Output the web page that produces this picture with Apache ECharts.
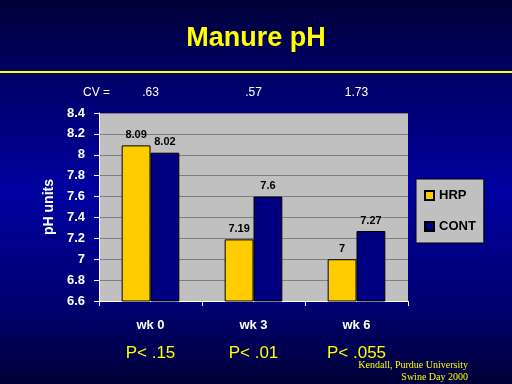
<!DOCTYPE html>
<html><head><meta charset="utf-8">
<script src="https://cdn.jsdelivr.net/npm/echarts@6/dist/echarts.min.js"></script>
<style>html,body{margin:0;padding:0;}#c{width:512px;height:384px;}</style>
</head><body><div id="c"></div>
<script>
var categories = ['wk 0', 'wk 3', 'wk 6'];
var pValues = ['P< .15', 'P< .01', 'P< .055'];
var cvValues = ['.63', '.57', '1.73'];
var hrp = [8.09, 7.19, 7.00];
var cont = [8.02, 7.60, 7.27];
var yTicks = [6.6, 6.8, 7, 7.2, 7.4, 7.6, 7.8, 8, 8.2, 8.4];

var chart = echarts.init(document.getElementById('c'));
var F = 'Liberation Sans, Arial, sans-serif';
chart.setOption({
  animation: false,
  backgroundColor: {
    type: 'linear', x: 0, y: 0, x2: 0, y2: 1,
    colorStops: [
      {offset: 0, color: '#000038'},
      {offset: 0.2, color: '#000068'},
      {offset: 0.5, color: '#0000a0'},
      {offset: 0.8, color: '#000070'},
      {offset: 1, color: '#000038'}
    ]
  },
  title: {
    text: 'Manure pH', left: 'center', top: 20,
    textStyle: {color: '#ffff00', fontSize: 27, fontWeight: 'bold', fontFamily: F}
  },
  graphic: [
    {type: 'rect', shape: {x: 0, y: 71, width: 512, height: 2}, style: {fill: '#ffff00'}},
    {type: 'text', left: 83, top: 87, style: {text: 'CV =', fill: '#ffffff', font: '12px ' + F}},
    {type: 'text', right: 44, top: 360, style: {text: 'Kendall, Purdue University', fill: '#ffff00', font: '10px Liberation Serif, serif', textAlign: 'right'}},
    {type: 'text', right: 44, top: 372, style: {text: 'Swine Day 2000', fill: '#ffff00', font: '10px Liberation Serif, serif', textAlign: 'right'}}
  ],
  legend: {
    orient: 'vertical', left: 416, top: 179, width: 67, height: 62,
    padding: [10, 8, 10, 8], itemGap: 18, itemWidth: 9, itemHeight: 9,
    backgroundColor: '#c0c0c0', borderColor: '#000000', borderWidth: 1,
    textStyle: {color: '#000000', fontSize: 13, fontWeight: 'bold', fontFamily: F},
    data: [{name: 'HRP', icon: 'rect'}, {name: 'CONT', icon: 'rect'}]
  },
  grid: {left: 99, top: 113, right: 104, bottom: 83, show: true, backgroundColor: '#c0c0c0', borderWidth: 0},
  xAxis: [{
    type: 'category', data: categories,
    axisLine: {lineStyle: {color: '#ffffff', width: 1}},
    axisTick: {show: true, length: 5, lineStyle: {color: '#ffffff'}},
    axisLabel: {
      margin: 10,
      formatter: function (v, i) { return '{a|' + v + '}\n{b|' + pValues[i] + '}'; },
      rich: {
        a: {color: '#ffffff', fontSize: 13, fontWeight: 'bold', fontFamily: F, lineHeight: 28},
        b: {color: '#ffff00', fontSize: 17, fontFamily: F, lineHeight: 28}
      }
    }
  }, {
    type: 'category', data: cvValues, position: 'top',
    axisLine: {show: false}, axisTick: {show: false},
    axisLabel: {margin: 14, color: '#ffffff', fontSize: 12, fontFamily: F}
  }],
  yAxis: {
    type: 'value', min: 6.6, max: 8.4, interval: 0.2,
    name: 'pH units', nameLocation: 'middle', nameGap: 40, nameRotate: 90,
    nameTextStyle: {color: '#ffffff', fontSize: 14, fontWeight: 'bold', fontFamily: F},
    axisLine: {show: true, lineStyle: {color: '#ffffff'}},
    axisTick: {show: true, length: 5, lineStyle: {color: '#ffffff'}},
    axisLabel: {
      margin: 14, color: '#ffffff', fontSize: 13, fontWeight: 'bold', fontFamily: F,
      formatter: function (v) { var r = Math.round(v * 10) / 10; return yTicks.indexOf(r) >= 0 ? String(r) : ''; }
    },
    splitLine: {show: true, lineStyle: {color: '#808080', width: 1}}
  },
  series: [{
    name: 'HRP', type: 'bar', data: hrp, barGap: '0%', barCategoryGap: '44%',
    itemStyle: {color: '#ffcc00', borderColor: '#000000', borderWidth: 1},
    label: {show: true, position: 'top', color: '#000000', fontSize: 11, fontWeight: 'bold', fontFamily: F,
      formatter: function (p) { return String(p.value); }}
  }, {
    name: 'CONT', type: 'bar', data: cont,
    itemStyle: {color: '#000080', borderColor: '#000000', borderWidth: 1},
    label: {show: true, position: 'top', color: '#000000', fontSize: 11, fontWeight: 'bold', fontFamily: F,
      formatter: function (p) { return String(p.value); }}
  }]
});
</script></body></html>
